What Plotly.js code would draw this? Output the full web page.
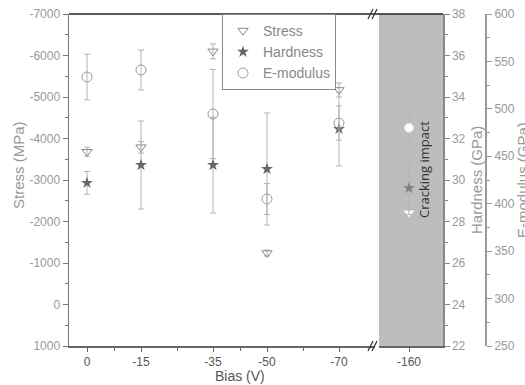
<!DOCTYPE html>
<html><head><meta charset="utf-8">
<script src="https://cdn.plot.ly/plotly-3.0.1.min.js"></script>
<style>html,body{margin:0;padding:0;background:#fff}#chart{width:525px;height:385px}</style>
</head><body><div id="chart"></div>
<script>
// Data (last entry = -160 V, drawn in the broken-axis segment)
const bias = [0, -15, -35, -50, -70, -160];
const biasTicks = [0, -15, -35, -50, -70];
const stress = [-3680, -3790, -6100, -1240, -5170, -2205];
const stressErr = [110, 140, 180, 70, 170, 60];
const hardness = [29.86, 30.72, 30.72, 30.53, 32.46, 29.61];
const hardnessErr = [0.55, 2.12, 2.31, 2.7, 1.78, 1.28];
const emod = [533.6, 541, 494.6, 405, 485, 480];
const emodErr = [24, 21, 47, 16.3, 18, 14];
const stressTicks = [-7000, -6000, -5000, -4000, -3000, -2000, -1000, 0, 1000];
const hardTicks = [22, 24, 26, 28, 30, 32, 34, 36, 38];
const emodTicks = [250, 300, 350, 400, 450, 500, 550, 600];

const main = [0,1,2,3,4], brk = [5];
const pick = (arr, idx) => idx.map(i => arr[i]);
const errStyle = {color:'#b4b4b4', thickness:1, width:3};

function tr(name, y, err, idx, xa, ya, marker, legend){
  return {type:'scatter', mode:'markers', name:name, x:pick(bias,idx), y:pick(y,idx),
    xaxis:xa, yaxis:ya, showlegend:legend, marker:marker,
    error_y:Object.assign({type:'data', array:pick(err,idx), visible:true}, errStyle)};
}
const data = [
  tr('Stress', stress, stressErr, main, 'x', 'y', {symbol:'triangle-down-open', size:9, color:'#888', line:{width:1}}, true),
  tr('Hardness', hardness, hardnessErr, main, 'x', 'y2', {symbol:'star', size:9, color:'#666'}, true),
  tr('E-modulus', emod, emodErr, main, 'x', 'y3', {symbol:'circle-open', size:10, color:'#9a9a9a', line:{width:1}}, true),
  tr('Stress', stress, stressErr, brk, 'x2', 'y', {symbol:'triangle-down', size:9, color:'#fff', line:{width:1, color:'#e0e0e0'}}, false),
  tr('Hardness', hardness, hardnessErr, brk, 'x2', 'y2', {symbol:'star', size:9, color:'#808080'}, false),
  tr('E-modulus', emod, emodErr, brk, 'x2', 'y3', {symbol:'circle', size:9, color:'#fff', line:{width:1, color:'#e0e0e0'}}, false)
];

const W = 525, L = 69, R = 20, T = 14, B = 39, H = 385, plotW = W - L - R, plotH = H - T - B;
const px = p => (p - L) / plotW;
const py = p => 1 - (p - T) / plotH;
const xEnd = px(375), x2Start = px(379), x2End = px(443);
const FF = 'Liberation Sans, Arial, sans-serif';
const tickFont = {family:FF, size:12, color:'#999'};
const xTickFont = {family:FF, size:12, color:'#555'};

function ann(text, xref, x, y, angle, size, color, family){
  return {text:text, xref:xref, yref:'paper', x:x, y:y, xanchor:'center', yanchor:'middle',
    textangle:angle, showarrow:false, font:{family:family||FF, size:size, color:color}};
}

const layout = {
  width:W, height:H,
  margin:{l:L, r:R, t:T, b:B},
  paper_bgcolor:'#fff', plot_bgcolor:'rgba(0,0,0,0)',
  showlegend:true,
  legend:{x:px(222), y:1, xanchor:'left', yanchor:'top', bgcolor:'#fff',
    bordercolor:'#888', borderwidth:1, font:{family:FF, size:14, color:'#888'}},
  xaxis:{domain:[0, xEnd], range:[5, -80], tickmode:'array', tickvals:biasTicks,
    ticktext:biasTicks.map(String), ticks:'outside', ticklen:4, tickcolor:'#666',
    showline:true, linecolor:'#666', linewidth:1.5, showgrid:false, zeroline:false,
    minor:{tickvals:[-7.5,-25,-42.5,-60], ticks:'outside', ticklen:3, tickcolor:'#666', showgrid:false},
    tickfont:xTickFont, anchor:'y'},
  xaxis2:{domain:[x2Start, x2End], range:[-151.7, -169.4], tickmode:'array', tickvals:[-160],
    ticktext:['-160'], ticks:'outside', ticklen:4, tickcolor:'#666', showline:true, linecolor:'#666',
    linewidth:1.5, showgrid:false, zeroline:false, anchor:'y', tickfont:xTickFont},
  yaxis:{range:[1000, -7000], tickmode:'array', tickvals:stressTicks, ticktext:stressTicks.map(String),
    ticks:'outside', ticklen:5, tickcolor:'#777',
    showline:true, linecolor:'#777', linewidth:1.5, showgrid:false, zeroline:false,
    minor:{dtick:500, tick0:-7000, ticks:'outside', ticklen:3, tickcolor:'#777', showgrid:false},
    tickfont:tickFont, anchor:'x'},
  yaxis2:{range:[22, 38], tickmode:'array', tickvals:hardTicks, ticktext:hardTicks.map(String),
    overlaying:'y', side:'right', anchor:'x2',
    ticks:'outside', ticklen:5, tickcolor:'#888', showline:true, linecolor:'#888', linewidth:1.5,
    showgrid:false, zeroline:false,
    minor:{dtick:1, tick0:22, ticks:'outside', ticklen:3, tickcolor:'#888', showgrid:false}, tickfont:tickFont},
  yaxis3:{range:[250, 600], tickmode:'array', tickvals:emodTicks, ticktext:emodTicks.map(String),
    overlaying:'y', side:'right', anchor:'free',
    position:px(486), ticks:'outside', ticklen:5, tickcolor:'#999', showline:true, linecolor:'#999',
    linewidth:2, showgrid:false, zeroline:false,
    minor:{dtick:25, tick0:250, ticks:'outside', ticklen:3, tickcolor:'#999', showgrid:false}, tickfont:tickFont},
  shapes:[
    {type:'rect', xref:'x2 domain', yref:'paper', x0:0, x1:1, y0:0, y1:1, fillcolor:'#bdbdbd',
     line:{width:0}, layer:'below'},
    {type:'line', xref:'paper', yref:'paper', x0:0, x1:x2End, y0:1, y1:1, line:{color:'#222', width:1.5}},
    {type:'line', xref:'paper', yref:'paper', xsizemode:'pixel', ysizemode:'pixel', xanchor:xEnd, yanchor:1,
     x0:-7, x1:-2, y0:-5, y1:5, line:{color:'#333', width:1.2}},
    {type:'line', xref:'paper', yref:'paper', xsizemode:'pixel', ysizemode:'pixel', xanchor:xEnd, yanchor:1,
     x0:-3, x1:2, y0:-5, y1:5, line:{color:'#333', width:1.2}},
    {type:'line', xref:'paper', yref:'paper', xsizemode:'pixel', ysizemode:'pixel', xanchor:xEnd, yanchor:0,
     x0:-7, x1:-2, y0:-5, y1:5, line:{color:'#333', width:1.2}},
    {type:'line', xref:'paper', yref:'paper', xsizemode:'pixel', ysizemode:'pixel', xanchor:xEnd, yanchor:0,
     x0:-3, x1:2, y0:-5, y1:5, line:{color:'#333', width:1.2}}
  ],
  annotations:[
    ann('Stress (MPa)', 'paper', px(18), py(165), -90, 15, '#999'),
    ann('Hardness (GPa)', 'paper', px(476), 0.5, -90, 15, '#999'),
    ann('E-modulus (GPa)', 'paper', px(522), 0.5, -90, 15, '#999'),
    ann('Bias (V)', 'paper', px(240), py(376), 0, 14, '#555'),
    ann('Cracking impact', 'x2 domain', (424-379)/64, py(170), -90, 13, '#333', 'Open Sans, sans-serif')
  ]
};
Plotly.newPlot('chart', data, layout, {staticPlot:true, displayModeBar:false});
</script></body></html>
